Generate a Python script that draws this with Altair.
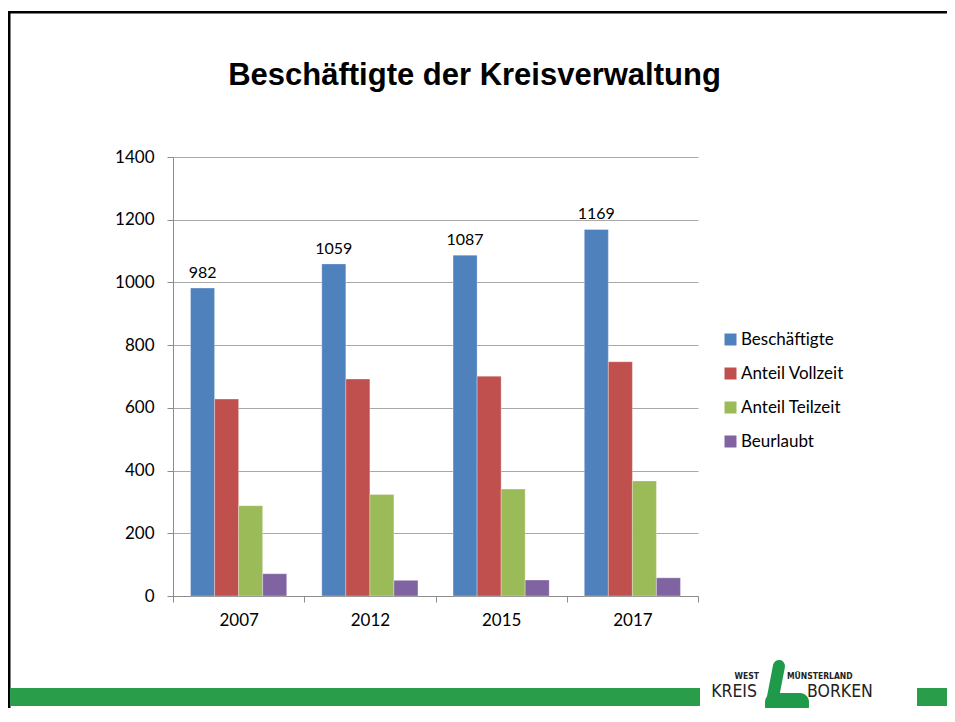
import altair as alt
import pandas as pd

# ---- data ----
years = ["2007", "2012", "2015", "2017"]
series = ["Beschäftigte", "Anteil Vollzeit", "Anteil Teilzeit", "Beurlaubt"]
beschaeftigte = [982, 1059, 1087, 1169]
vollzeit = [628, 692, 701, 747]
teilzeit = [288, 324, 341, 367]
beurlaubt = [71, 50, 51, 58]
colors = ["#4f81bd", "#c0504d", "#9bbb59", "#8064a2"]
y_ticks = [0, 200, 400, 600, 800, 1000, 1200, 1400]
title_text = "Beschäftigte der Kreisverwaltung"
logo_small = ["WEST", "MÜNSTERLAND"]
logo_big = ["KREIS", "BORKEN"]

rows = []
for s, vals in zip(series, [beschaeftigte, vollzeit, teilzeit, beurlaubt]):
    for yr, v in zip(years, vals):
        rows.append({"Jahr": yr, "Serie": s, "Wert": v})
df = pd.DataFrame(rows)

W, H = 525, 439
FONT = "Lato"
AX = "#8c8c8c"
GREEN = "#2a9d4a"

x_enc = alt.X(
    "Jahr:N", sort=years,
    scale=alt.Scale(paddingInner=0, paddingOuter=0),
    axis=alt.Axis(title=None, tickBand="extent", labelAngle=0, grid=False,
                  domainColor=AX, tickColor=AX, tickSize=6,
                  labelFont=FONT, labelFontSize=17, labelColor="black",
                  labelPadding=10),
)
xo_enc = alt.XOffset("Serie:N", sort=series,
                     scale=alt.Scale(domain=series, paddingInner=0, paddingOuter=0.73))
y_enc = alt.Y(
    "Wert:Q",
    scale=alt.Scale(domain=[0, 1400], nice=False),
    axis=alt.Axis(values=y_ticks, format="d", title=None, grid=True, gridColor="#a8a8a8",
                  gridWidth=1, domainColor=AX, tickColor=AX, tickSize=6,
                  labelFont=FONT, labelFontSize=17, labelColor="black",
                  labelPadding=13),
)

base = alt.Chart(df)
bars = base.mark_bar(stroke="white", strokeWidth=0.6, strokeOpacity=0.5).encode(
    x=x_enc, xOffset=xo_enc, y=y_enc,
    color=alt.Color(
        "Serie:N", sort=series,
        scale=alt.Scale(domain=series, range=colors),
        legend=alt.Legend(title=None, orient="none", legendX=549, legendY=174,
                          symbolType="square", symbolSize=144, symbolStrokeWidth=0,
                          labelFont=FONT, labelFontSize=17, labelColor="black",
                          labelOffset=2, rowPadding=16),
    ),
)
labels = base.transform_filter(alt.datum.Serie == series[0]).mark_text(
    baseline="alphabetic", dy=-10, font=FONT, fontSize=16, color="black"
).encode(x=x_enc, xOffset=xo_enc, y=y_enc, text="Wert:Q")

one = alt.Data(values=[{}])

title = alt.Chart(alt.Data(values=[{"t": title_text}])).mark_text(
    font="Liberation Sans", fontWeight="bold", fontSize=31, align="center",
    baseline="alphabetic", color="black"
).encode(x=alt.value(301.5), y=alt.value(-72), text="t:N")

frame_top = alt.Chart(one).mark_rule(color="black", strokeWidth=2.6).encode(
    x=alt.value(-165), x2=alt.value(800), y=alt.value(-144.7))
frame_left = alt.Chart(one).mark_rule(color="black", strokeWidth=2.6).encode(
    x=alt.value(-163.8), y=alt.value(-146), y2=alt.value(570))

bar_left = alt.Chart(one).mark_rect(color=GREEN).encode(
    x=alt.value(-163), x2=alt.value(527), y=alt.value(531), y2=alt.value(549))
bar_right = alt.Chart(one).mark_rect(color=GREEN).encode(
    x=alt.value(744), x2=alt.value(800), y=alt.value(531), y2=alt.value(549))

LOGO_GREEN = "#1f9a4a"
logo_stem = alt.Chart(one).mark_rule(color=LOGO_GREEN, strokeWidth=12, strokeCap="round").encode(
    x=alt.value(606), y=alt.value(509), x2=alt.value(600), y2=alt.value(540))
logo_foot = alt.Chart(one).mark_rect(color=LOGO_GREEN, cornerRadius=9).encode(
    x=alt.value(592), x2=alt.value(636), y=alt.value(536), y2=alt.value(558))

logo_font = "DejaVu Sans Condensed, Liberation Sans Narrow, Liberation Sans, sans-serif"
west = alt.Chart(alt.Data(values=[{"t": logo_small[0]}])).mark_text(
    font=logo_font, fontWeight="bold", fontSize=8.5, align="right", baseline="alphabetic",
    color="#222222").encode(x=alt.value(586), y=alt.value(521.5), text="t:N")
muenster = alt.Chart(alt.Data(values=[{"t": logo_small[1]}])).mark_text(
    font=logo_font, fontWeight="bold", fontSize=8.5, align="left", baseline="alphabetic",
    color="#222222").encode(x=alt.value(614), y=alt.value(521.5), text="t:N")
kreis = alt.Chart(alt.Data(values=[{"t": logo_big[0]}])).mark_text(
    font=logo_font, fontSize=17.5, align="right", baseline="alphabetic",
    color="#222222").encode(x=alt.value(584), y=alt.value(539.7), text="t:N")
borken = alt.Chart(alt.Data(values=[{"t": logo_big[1]}])).mark_text(
    font=logo_font, fontSize=17.5, align="left", baseline="alphabetic",
    color="#222222").encode(x=alt.value(634), y=alt.value(539.7), text="t:N")

chart = alt.layer(
    bars, labels, title, frame_top, frame_left, bar_left, bar_right,
    logo_stem, logo_foot, west, muenster, kreis, borken
).properties(
    width=W, height=H,
    autosize=alt.AutoSizeParams(type="none"),
    padding={"left": 165, "top": 149, "right": 249, "bottom": 112},
    background="white",
).configure_view(stroke="transparent")

chart.save("out.html", embed_options={"renderer": "svg", "actions": False})
